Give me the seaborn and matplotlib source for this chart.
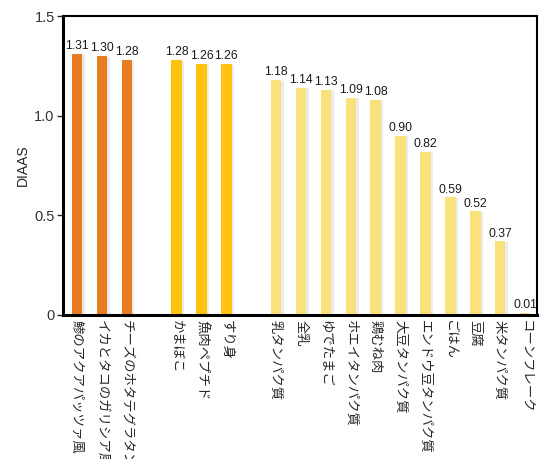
import numpy as np
import pandas as pd
import matplotlib
matplotlib.use("Agg")
import matplotlib.pyplot as plt
import matplotlib.patheffects as pe
import seaborn as sns

sns.set_style("white")
plt.rcParams['font.family'] = ['Noto Sans CJK JP', 'DejaVu Sans']

group1_labels = ["鯵のアクアパッツァ風", "イカとタコのガリシア風", "チーズのホタテグラタン風"]
group1_values = [1.31, 1.30, 1.28]
group2_labels = ["かまぼこ", "魚肉ペプチド", "すり身"]
group2_values = [1.28, 1.26, 1.26]
group3_labels = ["乳タンパク質", "全乳", "ゆでたまご", "ホエイタンパク質", "鶏むね肉",
                 "大豆タンパク質", "エンドウ豆タンパク質", "ごはん", "豆腐", "米タンパク質", "コーンフレーク"]
group3_values = [1.18, 1.14, 1.13, 1.09, 1.08, 0.90, 0.82, 0.59, 0.52, 0.37, 0.01]
group_names = ["g1", "g2", "g3"]
group_colors = ["#E97C1F", "#FFC20E", "#F9E27C"]

rows = []
pos = 0
for g, labs, vals in zip(group_names, [group1_labels, group2_labels, group3_labels],
                         [group1_values, group2_values, group3_values]):
    for l, v in zip(labs, vals):
        rows.append(dict(pos=pos, label=l, value=v, group=g))
        pos += 1
    pos += 1
df = pd.DataFrame(rows)

fig = plt.figure(figsize=(5.48, 4.59), dpi=100)
ax = fig.add_axes([0.115, 0.314, 0.865, 0.651])
sns.barplot(data=df, x="pos", y="value", hue="group", native_scale=True, dodge=False,
            width=0.42, palette=dict(zip(group_names, group_colors)), legend=False,
            ax=ax, linewidth=0, saturation=1)

for p in ax.patches:
    p.set_path_effects([pe.SimplePatchShadow(offset=(1.8, -0.5), shadow_rgbFace="#d8d8d8", alpha=0.5),
                        pe.Normal()])

for _, r in df.iterrows():
    ax.text(r["pos"], r["value"] + 0.008, f"{r['value']:.2f}", ha="center", va="bottom",
            fontsize=8.8, family=["Liberation Sans", "DejaVu Sans"], color="#1a1a1a")

ax.set_xlim(-0.56, df["pos"].max() + 0.48)
ax.set_ylim(0, 1.5)
ax.set_yticks([0, 0.5, 1.0, 1.5])
ax.set_yticklabels(["0", "0.5", "1.0", "1.5"], family=["Liberation Sans", "DejaVu Sans"], fontsize=10.5, color="#333333")
ax.set_xticks(df["pos"])
ax.set_xticklabels(df["label"], rotation=-90, va="top", ha="center", fontsize=9.6)
ax.tick_params(axis="x", length=0, pad=4)
ax.tick_params(axis="y", length=4, width=1, direction="out", left=True, pad=2)
ax.set_xlabel("")
ax.set_ylabel("DIAAS", family=["Liberation Sans", "DejaVu Sans"], fontsize=10, labelpad=3)
for s in ["left", "bottom"]:
    ax.spines[s].set_linewidth(2.2)
for s in ["top", "right"]:
    ax.spines[s].set_linewidth(1.5)
for s in ax.spines.values():
    s.set_color("black")
    s.set_visible(True)

fig.savefig("out.png", dpi=100)
